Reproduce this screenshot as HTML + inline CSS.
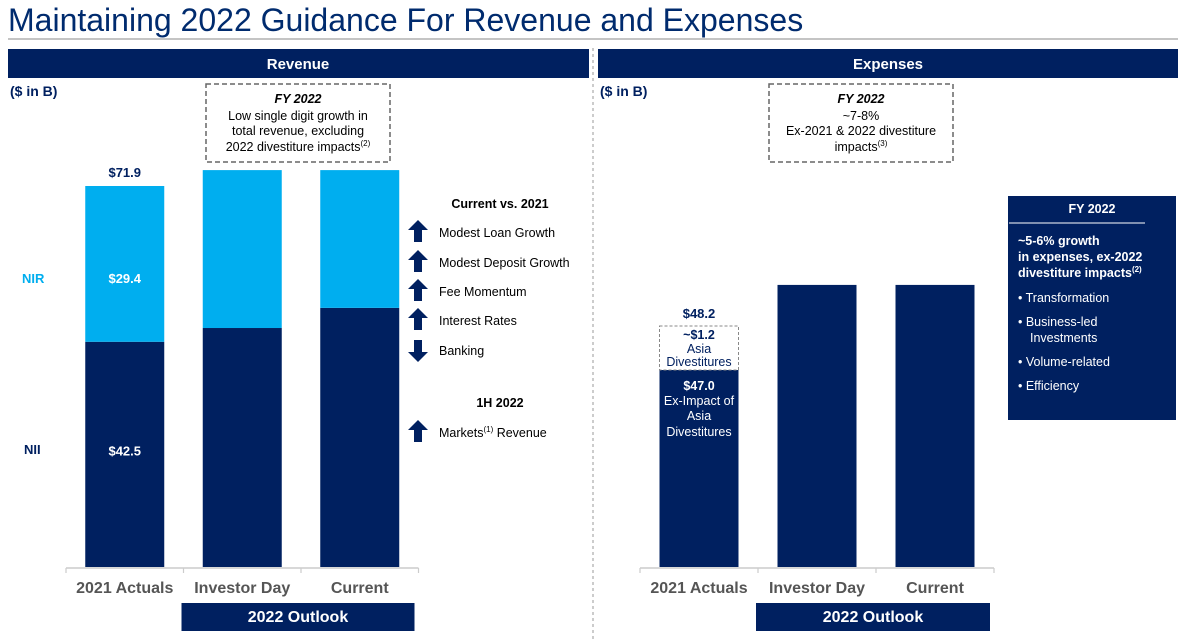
<!DOCTYPE html>
<html><head><meta charset="utf-8"><style>
body{margin:0;background:#fff;}
svg{display:block;font-family:"Liberation Sans",Arial,sans-serif;}
</style></head><body>
<svg id="root" width="1193" height="639" viewBox="0 0 1193 639" xmlns="http://www.w3.org/2000/svg">
<text x="8" y="31" font-size="32" fill="#002b6e">Maintaining 2022 Guidance For Revenue and Expenses</text>
<line x1="8" y1="39" x2="1178" y2="39" stroke="#b0b0b0" stroke-width="1.5"/>
<line x1="593" y1="48" x2="593" y2="639" stroke="#aaa" stroke-width="1.2" stroke-dasharray="3,3"/>

<rect x="8" y="49" width="581" height="29" fill="#002060"/>
<text x="298" y="69" font-size="15" font-weight="bold" fill="#fff" text-anchor="middle">Revenue</text>
<rect x="598" y="49" width="580" height="29" fill="#002060"/>
<text x="888" y="69" font-size="15" font-weight="bold" fill="#fff" text-anchor="middle">Expenses</text>

<text x="10" y="96" font-size="14" font-weight="bold" fill="#002060">($ in B)</text>
<text x="600" y="96" font-size="14" font-weight="bold" fill="#002060">($ in B)</text>

<g>
<rect x="206" y="84" width="184" height="78" fill="none" stroke="#666" stroke-width="1.5" stroke-dasharray="5,3"/>
<text x="298" y="103" font-size="12.5" font-weight="bold" font-style="italic" text-anchor="middle">FY 2022</text>
<text x="298" y="120" font-size="12.5" text-anchor="middle">Low single digit growth in</text>
<text x="298" y="135" font-size="12.5" text-anchor="middle">total revenue, excluding</text>
<text x="298" y="151" font-size="12.5" text-anchor="middle">2022 divestiture impacts<tspan font-size="8" dy="-5">(2)</tspan></text>
</g>
<g>
<rect x="769" y="84" width="184" height="78" fill="none" stroke="#666" stroke-width="1.5" stroke-dasharray="5,3"/>
<text x="861" y="103" font-size="12.5" font-weight="bold" font-style="italic" text-anchor="middle">FY 2022</text>
<text x="861" y="120" font-size="12.5" text-anchor="middle">~7-8%</text>
<text x="861" y="135" font-size="12.5" text-anchor="middle">Ex-2021 &amp; 2022 divestiture</text>
<text x="861" y="151" font-size="12.5" text-anchor="middle">impacts<tspan font-size="8" dy="-5">(3)</tspan></text>
</g>

<g id="rev"></g>
<g id="exp"></g>

<text x="22" y="283" font-size="13" font-weight="bold" fill="#00aeef">NIR</text>
<text x="24" y="454" font-size="13" font-weight="bold" fill="#002060">NII</text>

<g id="drivers">
<text x="500" y="208" font-size="12.5" font-weight="bold" text-anchor="middle">Current vs. 2021</text>
<text x="500" y="407" font-size="12.5" font-weight="bold" text-anchor="middle">1H 2022</text>
</g>

<g>
<rect x="1008" y="196" width="168" height="224" fill="#002060"/>
<text x="1092" y="213" font-size="12.5" font-weight="bold" fill="#fff" text-anchor="middle">FY 2022</text>
<line x1="1009" y1="223" x2="1145" y2="223" stroke="#fff" stroke-width="1"/>
<text x="1018" y="245" font-size="12.5" font-weight="bold" fill="#fff">~5-6% growth</text>
<text x="1018" y="261" font-size="12.5" font-weight="bold" fill="#fff">in expenses, ex-2022</text>
<text x="1018" y="277" font-size="12.5" font-weight="bold" fill="#fff">divestiture impacts<tspan font-size="8" dy="-5">(2)</tspan></text>
<text x="1018" y="302" font-size="12.5" fill="#fff">•  Transformation</text>
<text x="1018" y="326" font-size="12.5" fill="#fff">•  Business-led</text>
<text x="1030" y="342" font-size="12.5" fill="#fff">Investments</text>
<text x="1018" y="366" font-size="12.5" fill="#fff">•  Volume-related</text>
<text x="1018" y="390" font-size="12.5" fill="#fff">•  Efficiency</text>
</g>
</svg>
<script>
const NS="http://www.w3.org/2000/svg";
const revCategories=["2021 Actuals","Investor Day","Current"];
const revNII=[42.5,45.1,48.9];
const revNIR=[29.4,29.8,26.0];
const revNIILabels=["$42.5","",""];
const revNIRLabels=["$29.4","",""];
const revTotalLabels=["$71.9","",""];
const expCategories=["2021 Actuals","Investor Day","Current"];
const expValues=[47.0,67.3,67.3];
const expAsia=[1.2];
const driverLabels=["Modest Loan Growth","Modest Deposit Growth","Fee Momentum","Interest Rates","Banking","Markets"];
const driverDirs=["up","up","up","up","down","up"];

function el(tag,attrs,parent,text){const e=document.createElementNS(NS,tag);for(const k in attrs)e.setAttribute(k,attrs[k]);if(text!==undefined)e.textContent=text;parent.appendChild(e);return e;}
const base=567;
const revScale=v=>v*381/71.9;
const expScale=v=>v*197/47.0;

function axis(g,x0,step,cats){
  const w=step*3;
  const ax=el('line',{x1:x0,y1:base+1,x2:x0+w,y2:base+1,stroke:'#ccc','stroke-width':1.5},g);
  
  
  for(let i=0;i<=3;i++){const t=el('line',{x1:x0+i*step,y1:base+1,x2:x0+i*step,y2:base+6,stroke:'#ccc','stroke-width':1.2},g);
    
    }
  cats.forEach((c,i)=>{const t=el('text',{x:x0+step*(i+0.5),y:593,'font-size':16,'font-weight':'bold',fill:'#555','text-anchor':'middle'},g,c);
    
    });
  const ob=el('rect',{x:x0+step-2,y:603,width:step*2-2,height:28,fill:'#002060'},g);
  
  
  const ot=el('text',{x:x0+step*2-3,y:622,'font-size':16,'font-weight':'bold',fill:'#fff','text-anchor':'middle'},g,'2022 Outlook');
  
  
}

// Revenue
const rg=document.getElementById('rev');
const rx0=66,rstep=117.5,bw=79;
axis(rg,rx0,rstep,revCategories);
revCategories.forEach((c,i)=>{
  const cx=rx0+rstep*(i+0.5), x=cx-bw/2;
  const hNII=revScale(revNII[i]), hNIR=revScale(revNIR[i]);
  const b1=el('rect',{x:x,y:base-hNII,width:bw,height:hNII,fill:'#002060'},rg);
  
  
  const b2=el('rect',{x:x,y:base-hNII-hNIR,width:bw,height:hNIR,fill:'#00aeef'},rg);
  
  
  if(revNIILabels[i]){const t=el('text',{x:cx,y:base-hNII/2+1,'font-size':13,'font-weight':'bold',fill:'#fff','text-anchor':'middle'},rg,revNIILabels[i]);
    
    }
  if(revNIRLabels[i]){const t=el('text',{x:cx,y:base-hNII-hNIR/2+19,'font-size':13,'font-weight':'bold',fill:'#fff','text-anchor':'middle'},rg,revNIRLabels[i]);
    
    }
  if(revTotalLabels[i]){const t=el('text',{x:cx,y:base-hNII-hNIR-9,'font-size':13,'font-weight':'bold',fill:'#002060','text-anchor':'middle'},rg,revTotalLabels[i]);
    
    }
});

// Expenses
const eg=document.getElementById('exp');
const ex0=640,estep=118;
axis(eg,ex0,estep,expCategories);
expCategories.forEach((c,i)=>{
  const cx=ex0+estep*(i+0.5), x=cx-bw/2, h=expScale(expValues[i]);
  const b=el('rect',{x:x,y:base-h,width:bw,height:h,fill:'#002060'},eg);
  
  
  if(i===0){
    const top=base-h;
    const bx=el('rect',{x:x,y:top-44,width:bw,height:44,fill:'#fff',stroke:'#888','stroke-dasharray':'3,2'},eg);
    
    
    const lines=[["~$"+expAsia[0].toFixed(1),top-31,true],["Asia",top-17,false],["Divestitures",top-4,false]];
    lines.forEach(l=>{const t=el('text',{x:cx,y:l[1],'font-size':12.5,'font-weight':l[2]?'bold':'normal',fill:'#002060','text-anchor':'middle'},eg,l[0]);
      
      });
    const tot=el('text',{x:cx,y:top-52,'font-size':13,'font-weight':'bold',fill:'#002060','text-anchor':'middle'},eg,"$"+(expValues[0]+expAsia[0]).toFixed(1));
    
    
    const inner=[["$"+expValues[0].toFixed(1),top+20,true],["Ex-Impact of",top+35,false],["Asia",top+50,false],["Divestitures",top+66,false]];
    inner.forEach(l=>{const t=el('text',{x:cx,y:l[1],'font-size':12.5,'font-weight':l[2]?'bold':'normal',fill:'#fff','text-anchor':'middle'},eg,l[0]);
      
      });
  }
});

// Drivers with arrows
const dg=document.getElementById('drivers');
const ys=[232,262,291,320,350,432];
driverLabels.forEach((d,i)=>{
  const y=ys[i], ax=418;
  const p=driverDirs[i]==='up'
    ? `M${ax} ${y-12} L${ax+10} ${y-2} L${ax+4} ${y-2} L${ax+4} ${y+10} L${ax-4} ${y+10} L${ax-4} ${y-2} L${ax-10} ${y-2} Z`
    : `M${ax} ${y+12} L${ax+10} ${y+2} L${ax+4} ${y+2} L${ax+4} ${y-10} L${ax-4} ${y-10} L${ax-4} ${y+2} L${ax-10} ${y+2} Z`;
  const a=el('path',{d:p,fill:'#002060'},dg);
  
  
  const t=el('text',{x:439,y:y+5,'font-size':12.5},dg,d);
  
  
  if(d==='Markets'){el('tspan',{'font-size':8,dy:-5},t,'(1)');el('tspan',{dy:5},t,' Revenue');}
});
</script>
</body></html>
